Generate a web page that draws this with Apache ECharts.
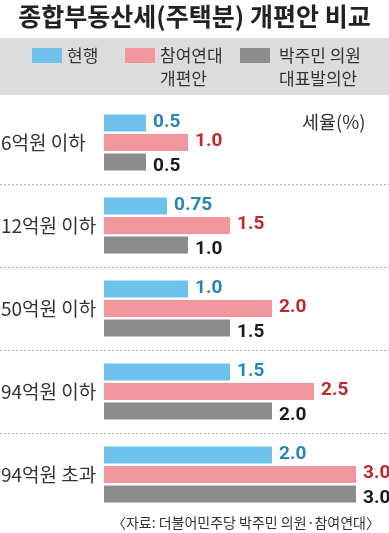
<!DOCTYPE html>
<html><head><meta charset="utf-8">
<script src="https://cdn.jsdelivr.net/npm/echarts@6/dist/echarts.min.js"></script>
<style>html,body{margin:0;padding:0;background:#fff}#c{width:389px;height:533px}</style>
</head><body><div id="c"></div>
<script>
const categories = ['6억원 이하', '12억원 이하', '50억원 이하', '94억원 이하', '94억원 초과'];
const currentRates = [0.5, 0.75, 1.0, 1.5, 2.0];
const pspdRates = [1.0, 1.5, 2.0, 2.5, 3.0];
const parkRates = [0.5, 1.0, 1.5, 2.0, 3.0];
const seriesNames = ['현행', '참여연대 개편안', '박주민 의원 대표발의안'];
const legendLines = [['현행'], ['참여연대', '개편안'], ['박주민 의원', '대표발의안']];

const FONT = '"Noto Sans CJK KR", "Noto Sans", sans-serif';
const NUMFONT = '"Liberation Sans Narrow", "Roboto", sans-serif';
const colors = ['#6ec1ea', '#f0969c', '#8c8c8c'];
const labelColors = ['#2785b5', '#c1272d', '#1a1a1a'];
const textPadLeft = [0, 0, 4];

const chart = echarts.init(document.getElementById('c'), null, {renderer: 'canvas'});

function fmt(v) { return v === 0.75 ? '0.75' : v.toFixed(1); }

function legendFor(i, left, top) {
  const lines = legendLines[i];
  const txt = (lines.length > 1 ? '\n' : '') + lines.map(l => '{a|' + l + '}').join('\n');
  return {
    data: [seriesNames[i]], left: left, top: top, padding: 0,
    itemWidth: 30, itemHeight: 15, itemGap: 0, icon: 'rect',
    selectedMode: false,
    formatter: () => txt,
    textStyle: {fontFamily: FONT, fontSize: 17, color: '#333', lineHeight: 23,
      rich: {a: {fontFamily: FONT, fontSize: 17, color: '#333', lineHeight: 23, padding: [0, 0, 0, textPadLeft[i]]}}}
  };
}

const dataSets = [currentRates, pspdRates, parkRates];
const option = {
  animation: false,
  backgroundColor: '#fff',
  title: [
    {text: '종합부동산세(주택분) 개편안 비교', left: 'center', top: -1,
      textStyle: {fontFamily: FONT, fontSize: 25, fontWeight: 'bold', color: '#222'}},
    {text: '세율(%)', left: 297, top: 108,
      textStyle: {fontFamily: FONT, fontSize: 18.5, fontWeight: 'normal', color: '#333'}},
    {text: '〈자료: 더불어민주당 박주민 의원·참여연대〉', right: 4, top: 511,
      textStyle: {fontFamily: FONT, fontSize: 14, fontWeight: 'normal', color: '#333'}}
  ],
  legend: [legendFor(0, 32, 44), legendFor(1, 125, 21), legendFor(2, 240, 21)],
  grid: {left: 104, right: 33, top: 101, height: 415, outerBoundsMode: 'none', containLabel: false},
  xAxis: {type: 'value', min: 0, max: 3, show: false},
  yAxis: {
    type: 'category', data: categories, inverse: true,
    axisLine: {show: false}, axisTick: {show: false}, splitLine: {show: false},
    axisLabel: {align: 'left', margin: 103, fontFamily: FONT, fontSize: 19, color: '#333'}
  },
  series: dataSets.map((d, i) => ({
    name: seriesNames[i], type: 'bar', data: d,
    barWidth: 17, barGap: '15%',
    itemStyle: {color: colors[i]},
    label: {show: true, position: 'right', distance: 7,
      offset: i === 2 ? [0, 4] : [0, -1],
      formatter: p => fmt(p.value),
      fontFamily: NUMFONT, fontSize: 19, fontWeight: 'bold', color: labelColors[i]}
  }))
};
chart.setOption(option);

// decorative band behind legend and dotted separators derived from the category axis
const c0 = chart.convertToPixel({yAxisIndex: 0}, 0);
const c1 = chart.convertToPixel({yAxisIndex: 0}, 1);
const step = c1 - c0;
const gfx = [{type: 'rect', z: -10, shape: {x: 0, y: 38, width: 389, height: 57}, style: {fill: '#dcdcdc'}}];
for (let i = 0; i < categories.length - 1; i++) {
  const y = Math.round(chart.convertToPixel({yAxisIndex: 0}, i) + step / 2) + 0.5;
  gfx.push({type: 'line', shape: {x1: 0, y1: y, x2: 389, y2: y},
    style: {stroke: '#b0b0b0', lineWidth: 1, lineDash: [2, 2]}});
}
chart.setOption({graphic: gfx});
</script></body></html>
